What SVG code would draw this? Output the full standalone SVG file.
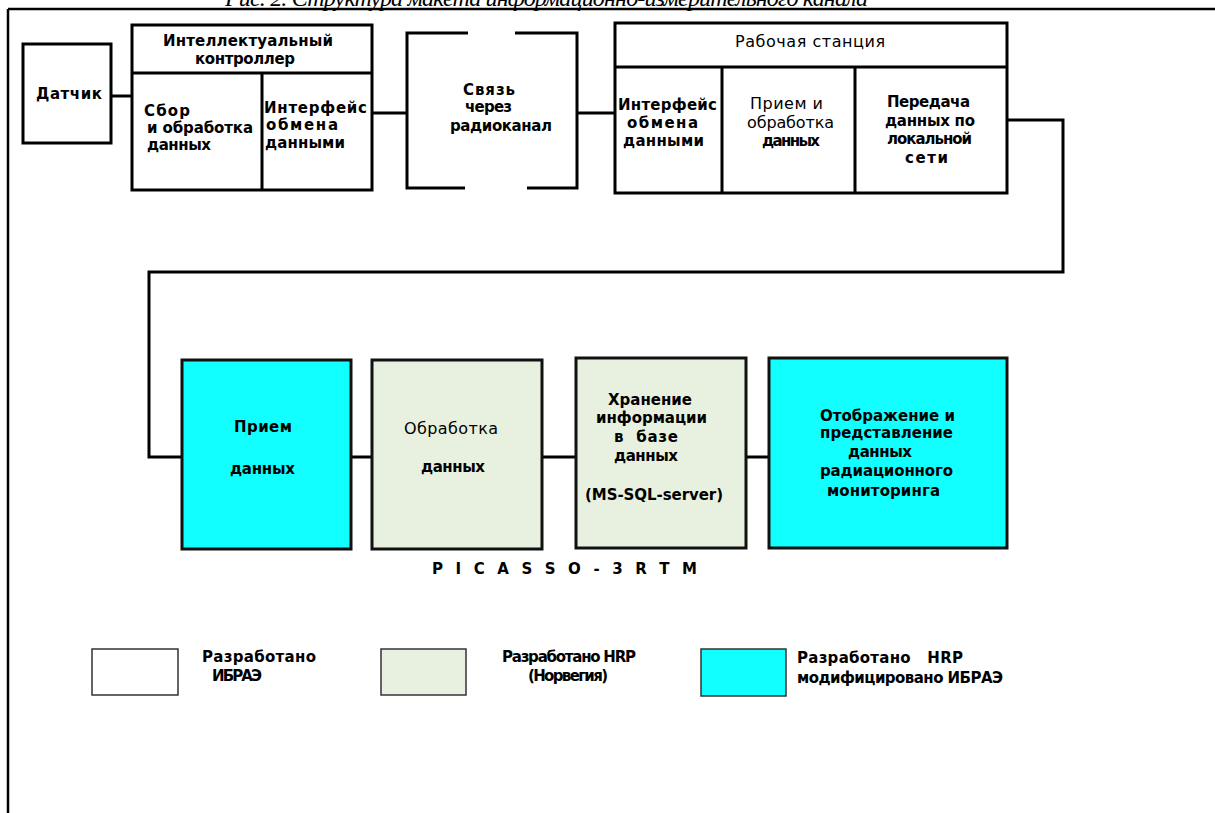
<svg xmlns="http://www.w3.org/2000/svg" width="1215" height="813" viewBox="0 0 1215 813">
<style>
.box{fill:#fff;stroke:#000;stroke-width:3}
.cy{fill:#12ffff;stroke:#111;stroke-width:3}
.gr{fill:#e8f1df;stroke:#111;stroke-width:3}
.ln{fill:none;stroke:#000;stroke-width:3}
.lg{stroke:#333;stroke-width:1.5}
text{font-family:"DejaVu Sans","Liberation Sans",sans-serif;font-size:15px;fill:#000}
.b{font-weight:bold}
.r{font-weight:normal;font-size:16px}
.cap{font-family:"Liberation Serif","DejaVu Serif",serif;font-style:italic;font-size:24px}
</style>
<rect width="1215" height="813" fill="#fff"/>
<g id="frame">
<text class="cap" x="225" y="6" textLength="643">Рис. 2. Структура макета информационно-измерительного канала</text>
<path d="M8,9 H1215 M8,9 V813" fill="none" stroke="#000" stroke-width="2.5"/>
</g>
<g id="connectors">
<path class="ln" d="M111,96 H132"/>
<path class="ln" d="M372,113 H407"/>
<path class="ln" d="M577,113 H615"/>
<path class="ln" d="M1007,120 H1063 V272 H149 V457 H182"/>
<path class="ln" d="M351,457 H373"/>
<path class="ln" d="M542,457 H577"/>
<path class="ln" d="M746,457 H770"/>
</g>
<g id="datchik">
<rect class="box" x="23" y="44" width="88" height="99"/>
<text class="b" x="36" y="99" textLength="66">Датчик</text>
</g>
<g id="controller">
<rect class="box" x="132" y="25" width="240" height="165"/>
<path class="ln" d="M132,73 H372 M262,73 V190"/>
<text class="b" x="163" y="46" textLength="170">Интеллектуальный</text>
<text class="b" x="195" y="64" textLength="100">контроллер</text>
<text class="b" x="144" y="116" textLength="46">Сбор</text>
<text class="b" x="147" y="133" textLength="106">и обработка</text>
<text class="b" x="147" y="150" textLength="64">данных</text>
<text class="b" x="264" y="113" textLength="103">Интерфейс</text>
<text class="b" x="266" y="130" textLength="72">обмена</text>
<text class="b" x="265" y="148" textLength="80">данными</text>
</g>
<g id="radio">
<path class="ln" d="M468,33 H407 V188 H465 M515,33 H577 V188 H527"/>
<text class="b" x="463" y="95" textLength="52">Связь</text>
<text class="b" x="465" y="112" textLength="47">через</text>
<text class="b" x="450" y="131" textLength="102">радиоканал</text>
</g>
<g id="station">
<rect class="box" x="615" y="23" width="392" height="170"/>
<path class="ln" d="M615,67 H1007 M722,67 V193 M855,67 V193"/>
<text class="r" x="735" y="47" textLength="150">Рабочая станция</text>
<text class="b" x="618" y="110" textLength="99">Интерфейс</text>
<text class="b" x="627" y="128" textLength="71">обмена</text>
<text class="b" x="623" y="146" textLength="81">данными</text>
<text class="r" x="750" y="109" textLength="73">Прием и</text>
<text class="r" x="747" y="128" textLength="87">обработка</text>
<text class="b" x="762" y="146" textLength="58">данных</text>
<text class="b" x="887" y="107" textLength="83">Передача</text>
<text class="b" x="885" y="126" textLength="90">данных по</text>
<text class="b" x="887" y="144" textLength="85">локальной</text>
<text class="b" x="905" y="163" textLength="43">сети</text>
</g>
<g id="priem">
<rect class="cy" x="182" y="360" width="169" height="189"/>
<text class="b" x="234" y="432" textLength="58">Прием</text>
<text class="b" x="230" y="474" textLength="65">данных</text>
</g>
<g id="obrabotka">
<rect class="gr" x="372" y="360" width="170" height="189"/>
<text class="r" x="404" y="434" textLength="94">Обработка</text>
<text class="b" x="421" y="472" textLength="64">данных</text>
</g>
<g id="hranenie">
<rect class="gr" x="576" y="358" width="170" height="190"/>
<text class="b" x="608" y="405" textLength="84">Хранение</text>
<text class="b" x="596" y="423" textLength="111">информации</text>
<text class="b" x="614" y="442" textLength="64" xml:space="preserve">в  базе</text>
<text class="b" x="614" y="461" textLength="64">данных</text>
<text class="b" x="585" y="500" textLength="138">(MS-SQL-server)</text>
</g>
<g id="otobrazhenie">
<rect class="cy" x="769" y="358" width="238" height="190"/>
<text class="b" x="820" y="421" textLength="135">Отображение и</text>
<text class="b" x="820" y="438" textLength="133">представление</text>
<text class="b" x="848" y="457" textLength="64">данных</text>
<text class="b" x="820" y="476" textLength="133">радиационного</text>
<text class="b" x="827" y="496" textLength="113">мониторинга</text>
</g>
<g id="picasso">
<text class="b" x="432" y="574" textLength="265" xml:space="preserve">P I C A S S O - 3 R T M</text>
</g>
<g id="legend-ibrae">
<rect class="lg" x="92" y="649" width="86" height="46" fill="#fff"/>
<text class="b" x="202" y="662" textLength="114">Разработано</text>
<text class="b" x="212" y="681" textLength="50">ИБРАЭ</text>
</g>
<g id="legend-hrp">
<rect class="lg" x="381" y="649" width="85" height="46" fill="#e8f1df"/>
<text class="b" x="502" y="662" textLength="134">Разработано HRP</text>
<text class="b" x="528" y="681" textLength="80">(Норвегия)</text>
</g>
<g id="legend-mod">
<rect class="lg" x="701" y="649" width="85" height="47" fill="#12ffff"/>
<text class="b" x="797" y="663" textLength="166" xml:space="preserve">Разработано   HRP</text>
<text class="b" x="797" y="683" textLength="206">модифицировано ИБРАЭ</text>
</g>
</svg>
